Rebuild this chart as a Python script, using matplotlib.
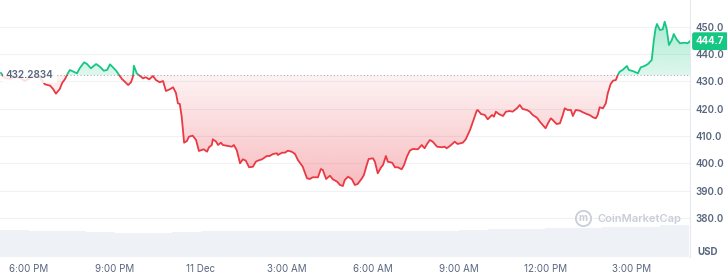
import matplotlib
matplotlib.use("Agg")
import matplotlib.pyplot as plt
import numpy as np
from matplotlib.patches import Rectangle
from matplotlib.path import Path

plt.rcParams['font.family'] = ['Inter', 'DejaVu Sans']

# minutes since 10 Dec 17:00
minutes = [2, 10, 21, 31, 42, 52, 59, 67, 75, 84, 94, 105, 111, 117, 125, 130, 136, 142, 146, 155,
           161, 167, 176, 182, 190, 201, 209, 217, 224, 230, 236, 243, 249, 255, 261, 268, 274, 278,
           280, 286, 293, 299, 305, 312, 320, 326, 334, 341, 347, 355, 362, 368, 372, 376, 380, 385,
           391, 395, 403, 410, 416, 422, 426, 433, 437, 443, 445, 452, 456, 462, 466, 477, 485, 489,
           495, 502, 508, 514, 521, 529, 535, 539, 548, 558, 564, 571, 579, 581, 590, 596, 602, 610,
           617, 623, 633, 642, 648, 654, 665, 671, 675, 682, 690, 696, 705, 711, 717, 721, 728, 736,
           742, 748, 757, 761, 767, 771, 780, 784, 790, 797, 801, 807, 811, 820, 826, 832, 840, 845,
           851, 857, 863, 874, 882, 888, 893, 899, 905, 914, 924, 930, 934, 941, 951, 957, 968, 974,
           983, 989, 997, 999, 1006, 1014, 1020, 1029, 1033, 1037, 1043, 1052, 1058, 1066, 1072,
           1081, 1087, 1093, 1102, 1108, 1114, 1123, 1129, 1135, 1141, 1146, 1152, 1156, 1164, 1171,
           1177, 1181, 1187, 1194, 1198, 1204, 1213, 1219, 1227, 1233, 1240, 1246, 1250, 1254, 1261,
           1267, 1271, 1277, 1282, 1288, 1292, 1296, 1302, 1311, 1315, 1323, 1334, 1340, 1348, 1355,
           1363, 1367, 1371, 1374, 1380, 1386, 1390, 1394, 1399, 1405, 1409, 1415, 1422, 1432, 1438,
           1443]
prices = [433.06, 431.23, 430.86, 431.60, 431.23, 430.13, 430.86, 431.60, 432.33, 431.23, 428.92,
          428.41, 427.20, 425.49, 427.20, 429.40, 430.86, 432.95, 434.16, 433.43, 432.95, 434.89,
          436.97, 436.35, 434.78, 436.35, 435.36, 433.90, 434.16, 436.24, 435.14, 433.90, 432.33,
          430.86, 429.88, 428.67, 429.66, 431.71, 435.73, 432.95, 431.96, 431.12, 431.49, 430.75,
          431.96, 430.50, 429.66, 430.13, 426.47, 427.09, 427.83, 425.74, 421.97, 421.72, 417.07,
          407.56, 408.18, 409.75, 410.12, 408.54, 404.52, 404.88, 405.14, 404.26, 405.87, 406.71,
          408.80, 407.92, 406.71, 407.56, 406.71, 406.35, 406.09, 406.71, 404.88, 400.02, 401.48,
          400.97, 398.55, 398.77, 400.60, 400.97, 401.48, 402.69, 402.69, 403.42, 403.68, 403.06,
          403.90, 403.90, 404.63, 404.26, 403.42, 401.23, 398.78, 394.53, 394.27, 394.90, 394.90,
          397.93, 397.57, 394.27, 395.48, 394.16, 393.29, 392.08, 391.71, 393.91, 395.12, 394.16,
          392.08, 392.44, 394.53, 395.74, 399.40, 401.59, 401.85, 400.60, 396.36, 398.55, 399.40,
          402.69, 400.60, 400.24, 398.55, 398.55, 397.82, 399.40, 402.43, 404.63, 405.25, 405.14,
          406.71, 405.51, 407.08, 408.54, 407.92, 406.09, 405.87, 406.09, 405.51, 406.35, 407.92,
          407.08, 407.56, 408.80, 412.20, 415.24, 419.26, 419.52, 418.06, 417.69, 416.12, 417.69,
          417.07, 418.90, 418.06, 417.33, 418.90, 419.16, 418.90, 420.14, 421.35, 419.89, 419.52,
          418.90, 417.69, 416.70, 415.24, 414.03, 412.83, 414.65, 416.48, 415.86, 414.40, 414.65,
          417.69, 420.14, 419.52, 419.52, 417.33, 419.52, 419.26, 418.68, 418.06, 417.69, 416.85,
          416.48, 417.69, 420.51, 420.14, 421.97, 425.63, 429.03, 430.24, 430.50, 432.33, 433.53,
          434.16, 435.62, 434.16, 433.79, 432.95, 435.14, 435.62, 436.35, 437.82, 444.51, 449.41,
          450.99, 448.79, 449.05, 451.83, 449.41, 443.30, 445.13, 447.33, 445.39, 443.93, 444.15,
          443.93, 444.70]

base_price = 432.2834
last_price = 444.7

# hourly volume (arbitrary units), hour index since 17:00
vol_hours = list(range(24))
volumes = [2.70, 2.65, 2.60, 2.47, 2.37, 2.37, 2.55, 2.60, 2.63, 2.63, 2.63, 2.63, 2.60, 2.60,
           2.60, 2.65, 2.75, 2.80, 2.80, 2.90, 2.95, 2.97, 3.00, 3.20]

xtick_pos = [60, 240, 420, 600, 780, 960, 1140, 1320]
xtick_labels = ['6:00 PM', '9:00 PM', '11 Dec', '3:00 AM', '6:00 AM', '9:00 AM', '12:00 PM', '3:00 PM']
ytick_vals = [380, 390, 400, 410, 420, 430, 440, 450]

RED = '#ea3943'
GREEN = '#16c784'
GRAY = '#58667e'
XMAX = 1443
YMIN, YMAX = 365.73, 459.77

W, H = 727, 275
fig = plt.figure(figsize=(W / 100, H / 100), dpi=100)
rect = [0, 18 / H, 690 / W, 257 / H]

vax = fig.add_axes(rect, zorder=0)
vax.bar([h * 60 for h in vol_hours], volumes, width=60, align='edge', color='#eef1f5',
        edgecolor='none')
vax.set_xlim(0, XMAX)
vax.set_ylim(0, 25.7)
vax.axis('off')

ax = fig.add_axes(rect, zorder=1)
ax.patch.set_visible(False)
t = np.array(minutes, dtype=float)
p = np.array(prices)

# fills
red_fill = ax.fill_between(t, p, base_price, where=p <= base_price, interpolate=True,
                           color='none', lw=0)
green_fill = ax.fill_between(t, p, base_price, where=p >= base_price, interpolate=True,
                             color='none', lw=0)


def grad_image(color, a0, a1):
    n = 256
    rgba = np.zeros((n, 1, 4))
    rgba[:, 0, :3] = matplotlib.colors.to_rgb(color)
    rgba[:, 0, 3] = np.linspace(a0, a1, n)
    return rgba


red_img = ax.imshow(grad_image(RED, 0.36, 0.06), extent=[0, XMAX, 388, base_price],
                    origin='lower', aspect='auto', zorder=2, interpolation='bilinear')
red_img.set_clip_path(Path.make_compound_path(*red_fill.get_paths()), ax.transData)
green_img = ax.imshow(grad_image(GREEN, 0.14, 0.36), extent=[0, XMAX, base_price, 452],
                      origin='lower', aspect='auto', zorder=2, interpolation='bilinear')
green_img.set_clip_path(Path.make_compound_path(*green_fill.get_paths()), ax.transData)

# baseline
ax.axhline(base_price, color='#a6b0c3', lw=0.8, ls=(0, (1, 2)), zorder=3)

# two-coloured line
for color, r in [(GREEN, Rectangle((0, base_price), XMAX, 100)),
                 (RED, Rectangle((0, base_price - 100), XMAX, 100))]:
    ln, = ax.plot(t, p, color=color, lw=1.3, solid_joinstyle='round', zorder=4)
    r.set_transform(ax.transData)
    ln.set_clip_path(r)

ax.set_xlim(0, XMAX)
ax.set_ylim(YMIN, YMAX)

ax.set_xticks(xtick_pos)
ax.set_xticklabels(xtick_labels)
ax.yaxis.tick_right()
ax.set_yticks(ytick_vals)
ax.set_yticklabels([f'{v:.1f}' for v in ytick_vals])
ax.tick_params(axis='x', length=0, pad=5, labelsize=7, labelcolor=GRAY)
ax.tick_params(axis='y', length=0, pad=4, labelsize=7, labelcolor=GRAY)
for lab in ax.get_yticklabels():
    lab.set_fontweight('semibold')
ax.yaxis.grid(True, color='#eff2f5', lw=0.8)
ax.set_axisbelow(True)
for s in ['top', 'left', 'bottom']:
    ax.spines[s].set_visible(False)
ax.spines['right'].set_color('#e6e9ee')
ax.spines['right'].set_linewidth(0.8)

# baseline label
ax.text(6 / 690, base_price, f'{base_price:.4f}', transform=ax.get_yaxis_transform(),
        ha='left', va='center', color=GRAY, fontsize=7.2, fontweight='semibold', zorder=6,
        bbox=dict(boxstyle='square,pad=0.3', fc='white', ec='none', alpha=0.85))

# last price tag
ax.text(1 + 6 / 690, last_price, f'{last_price:.1f}', transform=ax.get_yaxis_transform(),
        ha='left', va='center', color='white', fontsize=7, fontweight='bold', zorder=6,
        clip_on=False,
        bbox=dict(boxstyle='round,pad=0.4,rounding_size=0.25', fc=GREEN, ec='none'))

fig.text(697 / W, 1 - 252 / H, 'USD', ha='left', va='center', color=GRAY, fontsize=7,
         fontweight='bold')

# watermark
ax.plot([583 / 690], [1 - 218 / 257], marker='o', ms=11, mfc='none', mec='#c9ced8', mew=1.3,
        transform=ax.transAxes, zorder=5)
ax.text(583 / 690, 1 - 218 / 257, 'm', transform=ax.transAxes, ha='center', va='center',
        color='#c9ced8', fontsize=7, fontweight='bold', zorder=5)
ax.text(598 / 690, 1 - 219 / 257, 'CoinMarketCap', transform=ax.transAxes, ha='left',
        va='center', color='#c9ced8', fontsize=8, fontweight='semibold', zorder=5)

fig.savefig('out.png', dpi=100)
